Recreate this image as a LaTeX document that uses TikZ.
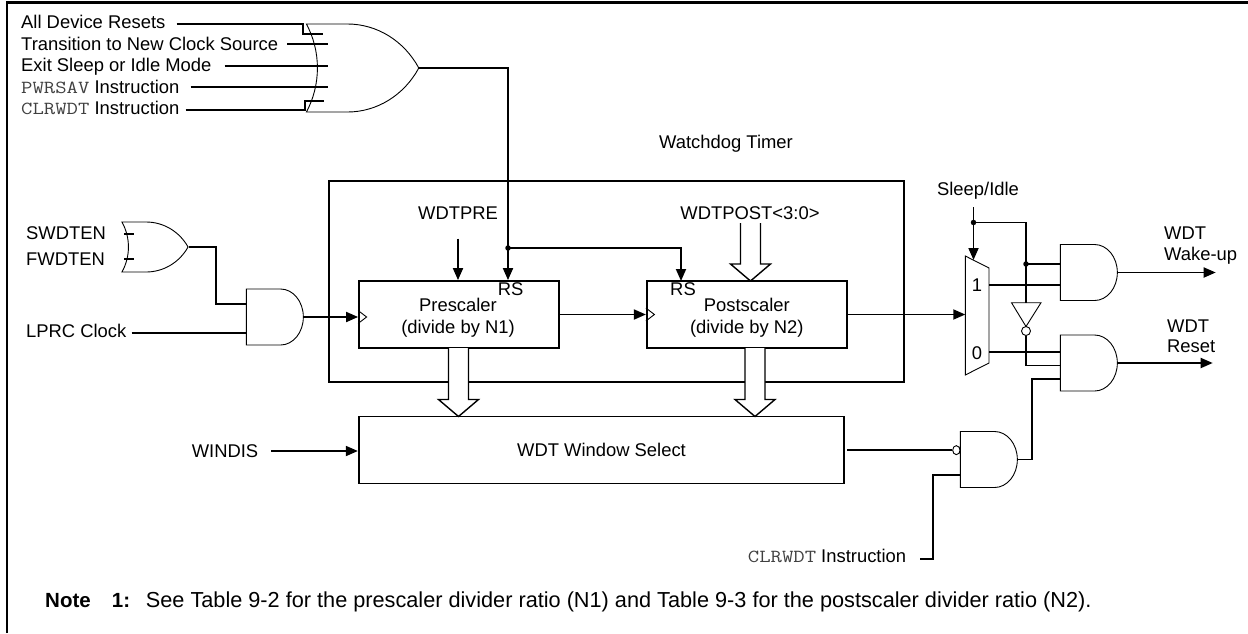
\documentclass[tikz,border=0pt]{standalone}
\usepackage{fontspec}
\setmainfont{Liberation Sans}
\newfontfamily\instrfont[FakeStretch=1.2]{Latin Modern Mono}
\usetikzlibrary{arrows.meta, positioning, shapes.geometric, shapes.gates.logic.US, calc}

\newcommand{\instr}[1]{{\instrfont\color{black!75}#1}}
\newcommand{\busarrow}[2]{%
  \filldraw[bus] ($(#1)+(-10,0)$) -- ($(#2)+(-10,-17)$) -- ($(#2)+(-20,-17)$) -- (#2)
    -- ($(#2)+(20,-17)$) -- ($(#2)+(10,-17)$) -- ($(#1)+(10,0)$);}
\newcommand{\clockmark}[1]{%
  \draw[thinline] ($(#1)+(0,-6.5)$) -- ($(#1)+(8.5,0)$) -- ($(#1)+(0,6.5)$);}

\tikzset{
  sig/.style={font=\fontsize{18.4}{22}\selectfont, inner sep=0pt, text height=13.2pt, text depth=0pt},
  sigleft/.style={sig, anchor=west},
  notetext/.style={anchor=west, inner sep=0pt, text height=15.5pt, text depth=0pt},
  blockbox/.style={draw, line width=1.8pt, inner sep=0pt, minimum width=200pt, minimum height=67pt},
  boxtext/.style={font=\fontsize{18.4}{22}\selectfont, align=center, inner sep=0pt},
  wire/.style={line width=1.8pt},
  thinline/.style={line width=0.9pt},
  bus/.style={line width=1.4pt, fill=white},
  gatebox/.style={draw, line width=0.9pt, inner sep=0pt, fill=white, anchor=west},
  andbox/.style={gatebox, and gate US, xscale=0.814, minimum height=56pt},
  junction/.style={circle, fill, inner sep=0pt, minimum size=5.5pt}
}

\begin{document}
\begin{tikzpicture}[x=1pt, y=-1pt, >={Triangle[length=12pt,width=10pt]}]
  \useasboundingbox (0,0) rectangle (1248,633);
  \draw[line width=2.2pt] (7,633) -- (7,2.5) -- (1248,2.5);

  % blocks
  \node[draw, line width=1.8pt, minimum width=575pt, minimum height=201pt, inner sep=0pt] (wdt) at (616.5,281.5) {};
  \node[sig] (wdtname) at (726,142) {Watchdog Timer};
  \node[blockbox, label={[boxtext, yshift=-3.5pt, xshift=-1pt]center:Prescaler\\(divide by N1)}] (pre) at (459,314.5) {};
  \node[blockbox, right=86pt of pre, label={[boxtext, yshift=-3.5pt]center:Postscaler\\(divide by N2)}] (post) {};
  \node[draw, line width=1.8pt, minimum width=485.5pt, minimum height=67pt, inner sep=0pt, font=\fontsize{18.4}{22}\selectfont] (win) at (601.5,450) {WDT Window Select};
  \node[sig] (rspre) at (510.7,289) {RS};
  \node[sig] (rspost) at (683,289) {RS};

  % gates
  \node[gatebox, or gate US, xscale=0.935, logic gate inputs=nnnnn, minimum height=88pt] (orbig) at (317,68) {};
  \node[gatebox, or gate US, xscale=0.968, minimum height=50pt] (orsw) at (128,247) {};
  \node[andbox] (andclk) at (246,317) {};
  \node[andbox] (andwake) at (1060,272.5) {};
  \node[andbox, logic gate inputs=nnn] (andrst) at (1060,363) {};
  \node[andbox, logic gate inputs=in, logic gate inverted radius=4.5pt, logic gate input sep=18.6pt] (andwin) at (960,459.5) {};
  \coordinate (invtop) at (1026,302.7);
  \draw[thinline] (1011.5,302.7) -- (1041,302.7) -- (1026,326.5) -- cycle;
  \node[draw, circle, line width=0.9pt, inner sep=0pt, minimum size=9pt] (invbub) at (1026,331) {};
  \coordinate (muxin) at (965.3,315);
  \draw[thinline] (965.3,256) -- (989,268) -- (989,363) -- (965.3,375) -- cycle;
  \node[sig] (muxa) at (977,285) {1};
  \node[sig] (muxb) at (977,352.5) {0};

  % input labels
  \node[sigleft] (resets) at (21,21.7) {All Device Resets};
  \node[sigleft] (trans) at (21,44) {Transition to New Clock Source};
  \node[sigleft] (exit) at (21,64.5) {Exit Sleep or Idle Mode};
  \node[sigleft] (pwrsav) at (21,86.7) {\instr{PWRSAV} Instruction};
  \node[sigleft] (clrwdt) at (21,108) {\instr{CLRWDT} Instruction};
  \node[sigleft] (swdten) at (26,232.7) {SWDTEN};
  \node[sigleft] (fwdten) at (26,259) {FWDTEN};
  \node[sigleft] (lprc) at (26,330.7) {LPRC Clock};
  \node[sig] (windis) at (225,451) {WINDIS};
  \node[sig] (wdtpre) at (458,212.7) {WDTPRE};
  \node[sig] (wdtpost) at (750,212.7) {WDTPOST<3:0>};
  \node[sig] (sleep) at (978,189) {Sleep/Idle};
  \node[sigleft] (wakea) at (1164,232.7) {WDT};
  \node[sigleft] (wakeb) at (1164,254) {Wake-up};
  \node[sigleft] (rsta) at (1167,326) {WDT};
  \node[sigleft] (rstb) at (1167,346) {Reset};
  \node[sigleft] (clrwin) at (747.7,556) {\instr{CLRWDT} Instruction};
  \node[notetext, font=\fontsize{20.5}{24}\selectfont\bfseries] (notehead) at (45,600) {Note};
  \node[notetext, font=\fontsize{20.5}{24}\selectfont\bfseries] (notenum) at (111.7,600) {1:};
  \node[notetext, font=\fontsize{21.7}{24}\selectfont] (notebody) at (145.7,600) {See Table 9-2 for the prescaler divider ratio (N1) and Table 9-3 for the postscaler divider ratio (N2).};

  % wire ends
  \coordinate (ina) at (323,34.3);
  \coordinate (inb) at (327.7,44.3);
  \coordinate (inc) at (328,66);
  \coordinate (ind) at (327.5,87.3);
  \coordinate (ine) at (324,100.7);
  \coordinate (swin) at (134,233.7);
  \coordinate (fwin) at (134,259);
  \coordinate (resetdot) at (508,248);
  \coordinate (sleepdot) at (973.5,222.5);
  \coordinate (wakedot) at (1026,264);
  \coordinate (muxone) at (989,285);
  \coordinate (muxzero) at (989,351.7);

  % wires at the big gate
  \draw[wire] ([xshift=11pt,yshift=-2pt]resets.east) -| (302.7,34.3) -- (ina);
  \draw[wire] ([xshift=9pt,yshift=-0.3pt]trans.east) -- (inb);
  \draw[wire] ([xshift=13pt,yshift=-1.5pt]exit.east) -- (inc);
  \draw[wire] ([xshift=11pt,yshift=-0.6pt]pwrsav.east) -- (ind);
  \draw[wire] ([xshift=6pt,yshift=-2pt]clrwdt.east) -| (305,100.7) -- (ine);
  \draw[wire] (orbig.output) -| (resetdot);
  \draw[wire, ->] (resetdot) -- (resetdot |- pre.north);
  \draw[wire, ->] (resetdot) -| (681,281);
  \node[junction] (resetj) at (resetdot) {};

  % clock path
  \draw[wire] (124,233.7) -- (swin);
  \draw[wire] (124,259) -- (fwin);
  \draw[wire] (orsw.output) -| (216,304) -- (andclk.west |- 0,304);
  \draw[wire] ([xshift=5pt,yshift=-2pt]lprc.east) -- (andclk.west |- 0,332.7);
  \draw[wire, ->] (andclk.east) -- (andclk.east -| pre.west);
  \clockmark{andclk.east -| pre.west}
  \draw[wire, ->] (pre.east) -- (post.west);
  \clockmark{post.west}
  \draw[wire, ->] (post.east) -- (post.east -| muxin);
  \draw[wire, ->] ([yshift=-19pt]wdtpre.south) -- (wdtpre.south |- pre.north);

  % bus arrows
  \coordinate (busprea) at (458.5,348);
  \coordinate (bustipa) at (458.5,416.5);
  \coordinate (buspostb) at (755,348);
  \coordinate (bustipb) at (755,416.5);
  \coordinate (bustopc) at (750.5,223);
  \coordinate (bustipc) at (750.5,281);
  \busarrow{busprea}{bustipa}
  \busarrow{buspostb}{bustipb}
  \busarrow{bustopc}{bustipc}

  % window select
  \draw[wire, ->] ([xshift=13pt]windis.east) -- (win.west |- windis.east);
  \draw[wire] ([xshift=2pt]andwin.input 1 -| win.east) -- (andwin.input 1);
  \draw[wire] ([xshift=14pt,yshift=-3pt]clrwin.east) -| (932.7,475) -- (960,475);
  \draw[wire] (andwin.output) -| (1032,379) -- (andrst.west |- 0,379);

  % sleep and outputs
  \draw[wire, ->] (973.5,207) -- (973.5,260);
  \draw[line width=1.2pt] (sleepdot) -| (invtop);
  \draw[line width=1.2pt] (invbub.south) |- (andrst.west |- 0,365.7);
  \draw[wire] (wakedot) -- (andwake.west |- wakedot);
  \draw[wire] (muxone) -- (andwake.west |- muxone);
  \draw[wire] (muxzero) -- (andrst.west |- muxzero);
  \node[junction] (sleepj) at (sleepdot) {};
  \node[junction] (wakej) at (wakedot) {};
  \draw[wire, ->] (andwake.east) -- ++(98,0);
  \draw[wire, ->] (andrst.east) -- ++(95,0);
\end{tikzpicture}
\end{document}
